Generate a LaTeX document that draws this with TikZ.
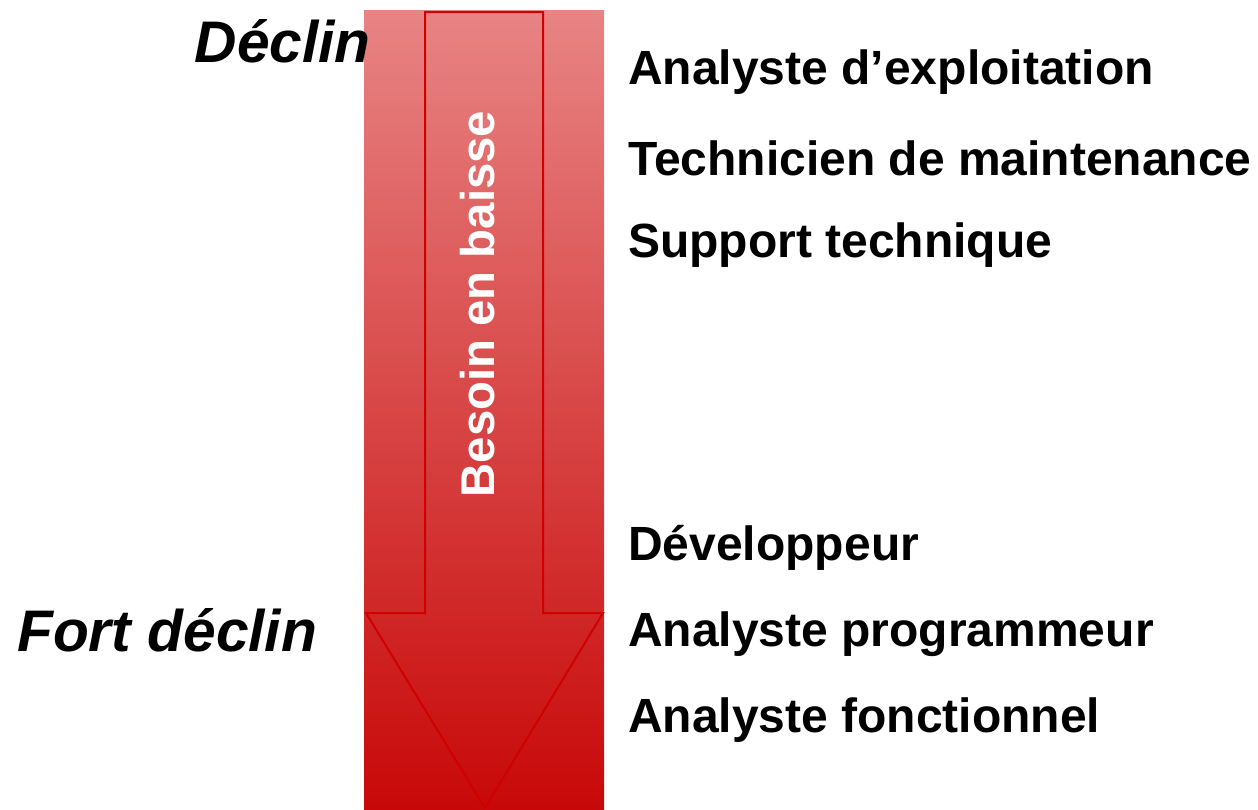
\documentclass[tikz,border=0pt]{standalone}
\usepackage{fontspec}
\setmainfont{Liberation Sans}
\begin{document}
\begin{tikzpicture}[x=0.75pt,y=-0.75pt,
  job/.style={anchor=west,inner sep=0pt,font=\fontsize{36}{40}\selectfont\bfseries},
  phase/.style={inner sep=0pt,font=\fontsize{44}{48}\selectfont\bfseries\itshape},
  arrowline/.style={draw=red!82!black,line width=1.5pt,line join=miter}]
\useasboundingbox (0,0) rectangle (1258,810);
\definecolor{topc}{RGB}{232,132,132}
\definecolor{midc}{RGB}{219,94,94}
\definecolor{botc}{RGB}{200,8,8}
\shade[top color=topc,middle color=midc,bottom color=botc] (364,10) rectangle (604,810);
\coordinate (s1) at (425,12);
\coordinate (s2) at (543,12);
\coordinate (s3) at (543,613);
\coordinate (h1) at (603,613);
\coordinate (tip) at (485,808);
\coordinate (h2) at (366,613);
\coordinate (s4) at (425,613);
\draw[arrowline] (s1) -- (s2) -- (s3) -- (h1) -- (tip) -- (h2) -- (s4) -- cycle;
\node[rotate=90,text=white,inner sep=0pt,font=\fontsize{35.5}{40}\selectfont\bfseries] (besoin) at (478,304) {Besoin en baisse};
\node[phase,anchor=east] (declin) at (371,41) {Déclin};
\node[phase,anchor=west] (fort) at (17,630) {Fort déclin};
\node[job] (j1) at (628,72) {Analyste d’exploitation};
\node[job] (j2) at (628,158) {Technicien de maintenance};
\node[job] (j3) at (628,245) {Support technique};
\node[job] (j4) at (628,548) {Développeur};
\node[job] (j5) at (628,634) {Analyste programmeur};
\node[job] (j6) at (628,720) {Analyste fonctionnel};
\end{tikzpicture}
\end{document}
